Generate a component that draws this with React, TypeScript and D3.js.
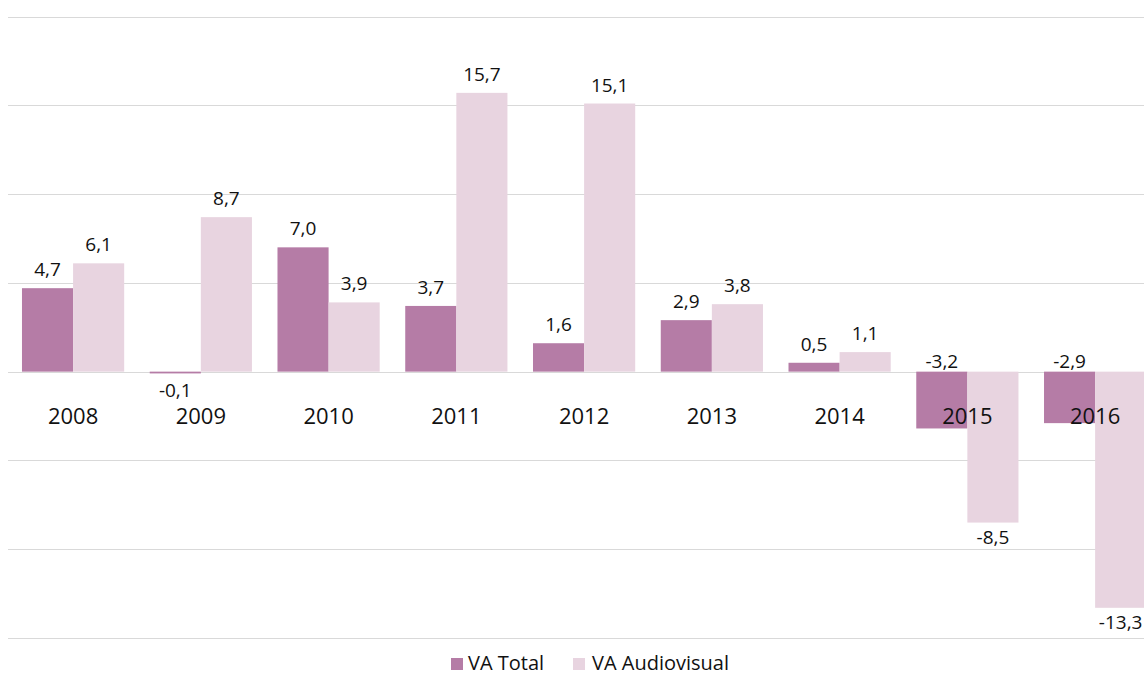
import React from "react";
import * as d3 from "d3";

const years = ["2008", "2009", "2010", "2011", "2012", "2013", "2014", "2015", "2016"];
const vaTotal = [4.7, -0.1, 7.0, 3.7, 1.6, 2.9, 0.5, -3.2, -2.9];
const vaAudiovisual = [6.1, 8.7, 3.9, 15.7, 15.1, 3.8, 1.1, -8.5, -13.3];
const seriesNames = ["VA Total", "VA Audiovisual"];
const yTicks = [-15, -10, -5, 0, 5, 10, 15, 20];

const colors = ["#b57ca6", "#e8d4e0"];
const FONT = "'Open Sans', 'Noto Sans', sans-serif";

export default function App() {
  const W = 1144;
  const H = 673;
  const x0 = d3.scaleBand<string>().domain(years).range([9.2, 1159]).paddingInner(0.2).paddingOuter(0.1);
  const x1 = d3.scaleBand<string>().domain(seriesNames).range([0, x0.bandwidth()]);
  const y = d3.scaleLinear().domain([-15, 20]).range([638, 16.5]);
  const fmt = (v: number) => d3.format(".1f")(v).replace(".", ",").replace("−", "-");
  const series = [vaTotal, vaAudiovisual];

  return (
    <svg
      width={W}
      height={H}
      style={{ position: "absolute", left: 0, top: 0, overflow: "hidden" }}
      fontFamily={FONT}
    >
      {yTicks.map((t) => (
        <line key={t} x1={8} x2={W} y1={Math.round(y(t)) + 0.5} y2={Math.round(y(t)) + 0.5} stroke="#d9d9d9" strokeWidth={1} />
      ))}
      {years.map((yr, i) => (
        <g key={yr} transform={`translate(${x0(yr)},0)`}>
          {series.map((vals, s) => {
            const v = vals[i];
            const bx = x1(seriesNames[s])!;
            const top = y(Math.max(0, v));
            const bot = y(Math.min(0, v));
            const cx = bx + x1.bandwidth() / 2;
            let ly: number;
            if (v >= 0) ly = top - 12;
            else if (s === 0 && v < -1) ly = y(0) - 4;
            else ly = bot + (v > -1 ? 24 : 21);
            return (
              <g key={s}>
                <rect x={bx} y={top} width={x1.bandwidth()} height={Math.max(1.5, bot - top)} fill={colors[s]} />
                <text x={cx} y={ly} textAnchor="middle" fontSize={19} fill="#111">
                  {fmt(v)}
                </text>
              </g>
            );
          })}
          <text x={x0.bandwidth() / 2} y={424} textAnchor="middle" fontSize={22} fill="#111">
            {yr}
          </text>
        </g>
      ))}
      <g>
        <rect x={451} y={658} width={12} height={12} fill={colors[0]} />
        <text x={468} y={670} fontSize={20} fill="#111">{seriesNames[0]}</text>
        <rect x={573} y={658} width={12} height={12} fill={colors[1]} />
        <text x={592} y={670} fontSize={20} fill="#111">{seriesNames[1]}</text>
      </g>
    </svg>
  );
}
